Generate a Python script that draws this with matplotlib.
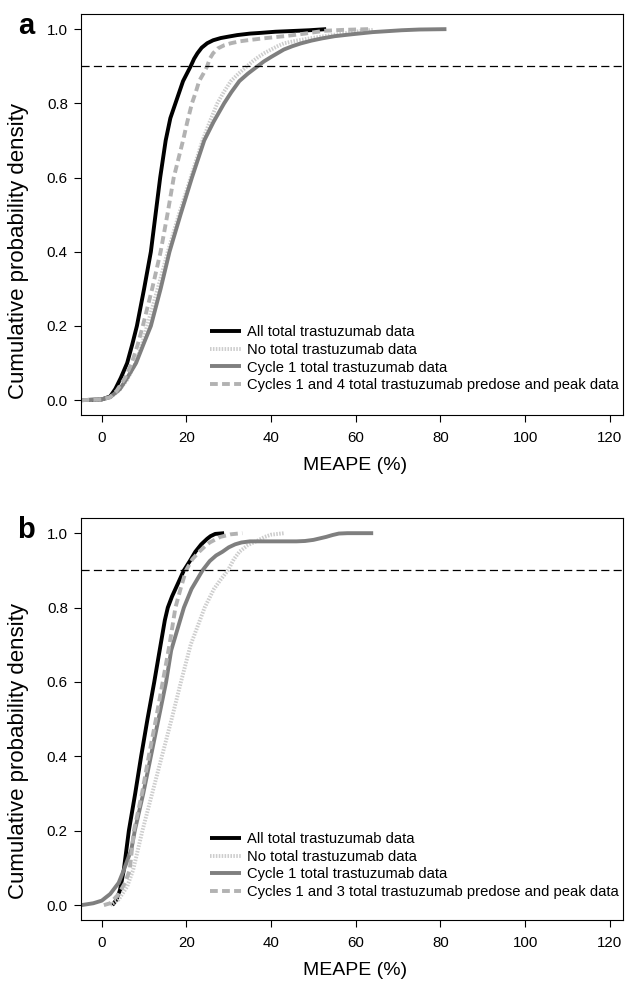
import matplotlib
matplotlib.use('Agg')
import matplotlib.pyplot as plt
import matplotlib.ticker as plticker

plt.rcParams['font.family'] = ['Liberation Sans', 'DejaVu Sans']

FIG_W_PX   = 629
FIG_H_PX   = 981
DPI        = 100
TICK_SIZE  = 10.8
LABEL_SIZE = 14
YLAB_SIZE  = 16
LEG_SIZE   = 10.6

X_TICKS = [0, 20, 40, 60, 80, 100, 120]
Y_TICKS = [0.0, 0.2, 0.4, 0.6, 0.8, 1.0]
CUTOFF  = 0.9

# ---- panel a : MEAPE (%) vs cumulative probability ----
a_all_x = [-4.8, 0, 2, 3.2, 4.5, 6.0, 7.2, 8.3, 10.0, 11.6, 12.7, 13.8, 15.1, 16.2, 17.4, 18.3,
           19.2, 20.1, 21.0, 21.8, 22.6, 23.6, 24.9, 26.3, 28.1, 30.0, 32.0, 35.0, 37.6, 41.0,
           45.0, 49.0, 53.0]
a_all_y = [0.0, 0.002, 0.01, 0.03, 0.06, 0.10, 0.15, 0.20, 0.30, 0.40, 0.50, 0.60, 0.70, 0.76, 0.80, 0.83,
           0.86, 0.88, 0.90, 0.92, 0.935, 0.95, 0.962, 0.97, 0.976, 0.98, 0.984, 0.988, 0.99, 0.993,
           0.995, 0.997, 1.0]

a_none_x = [-4.8, 0, 2, 4.0, 6.0, 8.0, 9.5, 10.7, 13.2, 15.6, 18.2, 21.0, 23.8, 25.5, 27.3, 28.8,
            30.5, 32.3, 34.3, 35.6, 37.0, 38.5, 40.0, 41.5, 43.1, 46.0, 49.0, 52.0, 55.0, 58.0,
            61.0, 64.0]
a_none_y = [0.0, 0.002, 0.008, 0.025, 0.055, 0.10, 0.15, 0.20, 0.30, 0.40, 0.50, 0.60, 0.70, 0.75, 0.80, 0.83,
            0.86, 0.88, 0.90, 0.913, 0.925, 0.936, 0.945, 0.954, 0.962, 0.969, 0.975, 0.98, 0.985, 0.99,
            0.995, 0.998]

a_c1_x = [-4.8, 0, 2, 4.3, 6.0, 8.1, 10.0, 11.6, 13.9, 16.0, 18.6, 21.3, 24.2, 26.4, 28.9, 30.6,
          32.5, 34.5, 36.8, 38.3, 40.0, 41.5, 43.0, 45.0, 47.0, 49.5, 52.0, 55.0, 58.9, 64.0,
          70.8, 75.0, 81.4]
a_c1_y = [0.0, 0.002, 0.008, 0.03, 0.06, 0.10, 0.155, 0.20, 0.30, 0.40, 0.50, 0.60, 0.70, 0.75, 0.80, 0.83,
          0.86, 0.88, 0.90, 0.913, 0.925, 0.935, 0.945, 0.954, 0.9615, 0.969, 0.975, 0.981, 0.986, 0.992,
          0.997, 0.999, 1.0]

a_c14_x = [-4.8, 0, 2, 3.5, 5.5, 7.1, 8.5, 9.7, 11.9, 13.9, 15.5, 17.0, 19.2, 20.2, 21.3, 22.2,
           23.0, 24.0, 24.9, 25.5, 26.3, 27.4, 29.0, 30.5, 32.5, 34.4, 38.0, 43.1, 48.0, 52.5,
           57.0, 62.9]
a_c14_y = [0.0, 0.002, 0.008, 0.025, 0.06, 0.10, 0.15, 0.20, 0.30, 0.40, 0.50, 0.60, 0.70, 0.75, 0.80, 0.83,
           0.86, 0.88, 0.90, 0.92, 0.935, 0.948, 0.957, 0.962, 0.967, 0.97, 0.975, 0.981, 0.988, 0.9955,
           0.998, 1.0]

# ---- panel b ----
b_all_x = [2.5, 3.5, 4.3, 5.2, 6.4, 7.9, 9.3, 10.8, 12.4, 13.6, 14.9, 15.6, 16.6, 18.0, 19.4,
           20.8, 22.1, 23.5, 24.9, 25.7, 26.8, 28.9]
b_all_y = [0.0, 0.015, 0.04, 0.094, 0.20, 0.30, 0.40, 0.50, 0.60, 0.68, 0.766, 0.80, 0.83, 0.865, 0.90,
           0.925, 0.95, 0.97, 0.985, 0.992, 0.998, 1.0]

b_none_x = [2.0, 4.0, 6.0, 7.4, 9.6, 11.9, 14.2, 16.5, 18.7, 21.0, 24.3, 26.5, 28.2, 29.8, 31.2,
            32.5, 34.5, 36.8, 38.5, 40.0, 43.1]
b_none_y = [0.0, 0.015, 0.05, 0.094, 0.20, 0.30, 0.40, 0.50, 0.60, 0.70, 0.80, 0.85, 0.877, 0.90, 0.93,
            0.95, 0.968, 0.98, 0.99, 0.996, 1.0]

b_c1_x = [-4.8, -2.0, 0, 2.0, 4.0, 5.2, 7.0, 7.8, 9.8, 11.6, 13.4, 15.2, 16.4, 19.4, 21.2, 23.8,
          25.5, 27.0, 28.5, 30.0, 31.5, 33.0, 35.0, 40.0, 46.0, 48.0, 50.0, 51.5, 53.0, 54.5,
          56.0, 58.0, 64.1]
b_c1_y = [0.0, 0.005, 0.012, 0.03, 0.06, 0.094, 0.15, 0.20, 0.30, 0.40, 0.50, 0.60, 0.685, 0.80, 0.85, 0.90,
          0.925, 0.94, 0.95, 0.962, 0.97, 0.975, 0.978, 0.978, 0.978, 0.979, 0.982, 0.986, 0.99, 0.995,
          0.999, 1.0, 1.0]

b_c13_x = [0.5, 2.0, 4.0, 5.5, 6.6, 7.6, 9.5, 11.1, 12.8, 14.4, 16.0, 17.4, 18.6, 19.9, 21.4,
           23.0, 24.4, 25.5, 28.0, 30.5, 33.2]
b_c13_y = [0.0, 0.005, 0.03, 0.06, 0.094, 0.20, 0.30, 0.40, 0.50, 0.60, 0.70, 0.80, 0.85, 0.90, 0.93,
           0.95, 0.965, 0.975, 0.99, 0.997, 1.0]

A_LABELS = ['All total trastuzumab data',
            'No total trastuzumab data',
            'Cycle 1 total trastuzumab data',
            'Cycles 1 and 4 total trastuzumab predose and peak data']
B_LABELS = ['All total trastuzumab data',
            'No total trastuzumab data',
            'Cycle 1 total trastuzumab data',
            'Cycles 1 and 3 total trastuzumab predose and peak data']

# line styles: (colour, dash pattern)
STYLES = [('#000000', '-'),
          ('#cdcdcd', (0, (0.4, 0.35))),
          ('#7f7f7f', '-'),
          ('#b2b2b2', (0, (2.0, 1.1)))]
LINE_W = 2.8


def px(x, y, w, h):
    # pixel box (left, top, width, height) -> figure fraction
    return [x / FIG_W_PX, 1 - (y + h) / FIG_H_PX, w / FIG_W_PX, h / FIG_H_PX]


def draw_panel(ax, curves, labels, letter, legTop, ylabY):
    for (xs, ys), label, (color, ls) in zip(curves, labels, STYLES):
        ax.plot(xs, ys, color=color, linestyle=ls, lw=LINE_W, label=label,
                solid_capstyle='butt', dash_capstyle='butt', solid_joinstyle='round')

    ax.axhline(CUTOFF, color='black', lw=0.9, linestyle=(0, (6.5, 3.4)))

    ax.set_xlim(-4.9, 123.1)
    ax.set_ylim(-0.04, 1.04)
    ax.set_xticks(X_TICKS)
    ax.set_yticks(Y_TICKS)
    ax.yaxis.set_major_formatter(plticker.FormatStrFormatter('%.1f'))
    ax.tick_params(direction='out', length=5, width=0.8, labelsize=TICK_SIZE)
    ax.tick_params(axis='x', pad=6.5)
    ax.tick_params(axis='y', pad=4.5)
    for spine in ax.spines.values():
        spine.set_linewidth(0.8)

    ax.set_xlabel('MEAPE (%)', fontsize=LABEL_SIZE)
    ax.set_ylabel('Cumulative probability density', fontsize=YLAB_SIZE)
    ax.xaxis.set_label_coords(0.505, -0.105)
    ax.yaxis.set_label_coords(-0.096, ylabY)

    ax.text(-0.101, 0.972, letter, transform=ax.transAxes, fontsize=21, fontweight='bold',
            ha='center', va='center')

    ax.legend(loc='upper left', bbox_to_anchor=(0.238, legTop), frameon=False,
              borderpad=0, borderaxespad=0, handlelength=2.1, handletextpad=0.4,
              labelspacing=0.25, fontsize=LEG_SIZE)


fig = plt.figure(figsize=(FIG_W_PX / DPI, FIG_H_PX / DPI), dpi=DPI)

axA = fig.add_axes(px(81, 14.3, 542, 400.7))
axB = fig.add_axes(px(81, 518.3, 542, 401.7))

draw_panel(axA, [(a_all_x, a_all_y), (a_none_x, a_none_y), (a_c1_x, a_c1_y), (a_c14_x, a_c14_y)],
           A_LABELS, 'a', 0.224, 0.41)
draw_panel(axB, [(b_all_x, b_all_y), (b_none_x, b_none_y), (b_c1_x, b_c1_y), (b_c13_x, b_c13_y)],
           B_LABELS, 'b', 0.219, 0.42)

fig.savefig('out.png', dpi=DPI)
